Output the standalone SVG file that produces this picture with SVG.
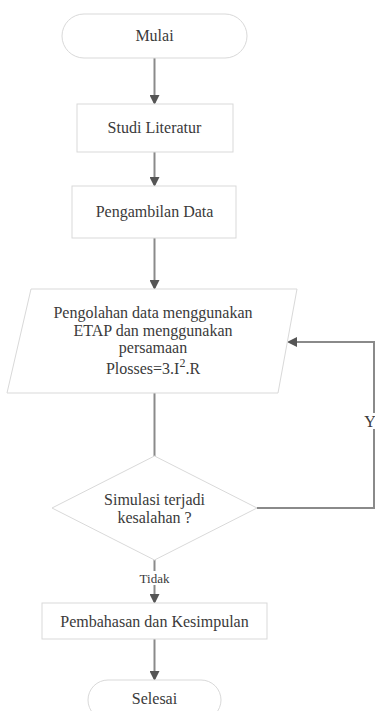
<svg xmlns="http://www.w3.org/2000/svg" width="375" height="711" viewBox="0 0 375 711">
<defs>
<style>
.n{fill:#fff;stroke:#d9d9d9;stroke-width:1}
.t{fill:#3a3a3a;text-anchor:middle}
.c{fill:none;stroke:#8a8a8a;stroke-width:2}
</style>
<marker id="a" markerWidth="10" markerHeight="10" refX="8" refY="5" orient="auto" markerUnits="userSpaceOnUse" viewBox="0 0 10 10">
<path d="M0,0 L10,5 L0,10 z" fill="#555"/>
</marker>
</defs>
<rect width="375" height="711" fill="#fff"/>
<g font-family="'Liberation Serif', 'Times New Roman', serif" font-size="16">
<g id="connectors">
<line class="c" x1="154.5" y1="58" x2="154.5" y2="103" marker-end="url(#a)"/>
<line class="c" x1="154.5" y1="152" x2="154.5" y2="185" marker-end="url(#a)"/>
<line class="c" x1="154.5" y1="238" x2="154.5" y2="288" marker-end="url(#a)"/>
<line class="c" x1="154.5" y1="393" x2="154.5" y2="456"/>
<polyline class="c" points="257,508 374,508 374,342 289,342" marker-end="url(#a)"/>
<line class="c" x1="154.5" y1="560" x2="154.5" y2="602" marker-end="url(#a)"/>
<line class="c" x1="154.5" y1="639" x2="154.5" y2="679" marker-end="url(#a)"/>
<rect x="363" y="413" width="14" height="16" fill="#fff"/>
<text class="t" x="370" y="427">Y</text>
<rect x="137" y="571" width="35" height="14" fill="#fff"/>
<text class="t" x="154.5" y="583" font-size="13">Tidak</text>
</g>
<g id="mulai">
<rect class="n" x="62" y="14" width="185" height="44" rx="22"/>
<text class="t" x="154.5" y="41">Mulai</text>
</g>
<g id="studi">
<rect class="n" x="77" y="104" width="156" height="48"/>
<text class="t" x="154.5" y="133">Studi Literatur</text>
</g>
<g id="pengambilan">
<rect class="n" x="72" y="186" width="164" height="52"/>
<text class="t" x="154.5" y="217">Pengambilan Data</text>
</g>
<g id="pengolahan">
<polygon class="n" points="31,289 297,289 278,393 7,393"/>
<text class="t" x="153" y="318">Pengolahan data menggunakan</text>
<text class="t" x="153" y="336">ETAP dan menggunakan</text>
<text class="t" x="153" y="353">persamaan</text>
<text class="t" x="153" y="374">Plosses=3.I<tspan dy="-7" font-size="12">2</tspan><tspan dy="7">.R</tspan></text>
</g>
<g id="simulasi">
<polygon class="n" points="154.5,456 257,508 154.5,560 52,508"/>
<text class="t" x="154.5" y="505">Simulasi terjadi</text>
<text class="t" x="154.5" y="523">kesalahan ?</text>
</g>
<g id="pembahasan">
<rect class="n" x="42" y="603" width="225" height="36"/>
<text class="t" x="154.5" y="627">Pembahasan dan Kesimpulan</text>
</g>
<g id="selesai">
<rect class="n" x="88" y="680" width="133" height="40" rx="20"/>
<text class="t" x="154.5" y="704">Selesai</text>
</g>
</g>
</svg>
